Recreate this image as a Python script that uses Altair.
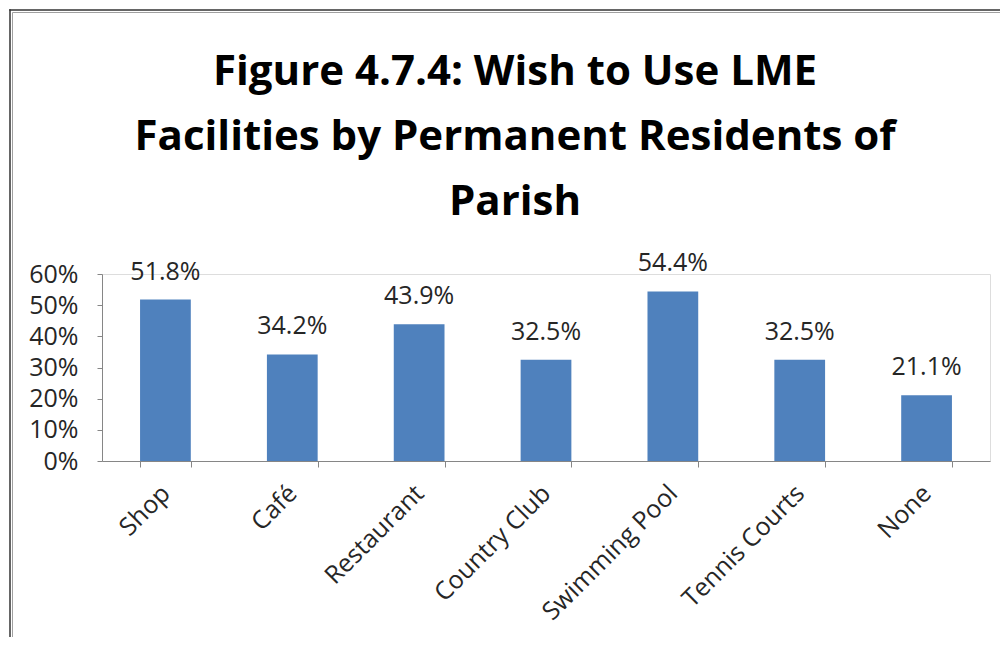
import altair as alt
import pandas as pd

categories = ["Shop", "Café", "Restaurant", "Country Club", "Swimming Pool", "Tennis Courts", "None"]
values = [0.518, 0.342, 0.439, 0.325, 0.544, 0.325, 0.211]
labels = ["51.8%", "34.2%", "43.9%", "32.5%", "54.4%", "32.5%", "21.1%"]
title_lines = ["Figure 4.7.4: Wish to Use LME", "Facilities by Permanent Residents of", "Parish"]
y_ticks = [0, 0.1, 0.2, 0.3, 0.4, 0.5, 0.6]

df = pd.DataFrame({"cat": categories, "val": values, "lab": labels})

FONT = "Open Sans"
TEXT = "#262626"
AXIS = "#868686"
FS = 25

x = alt.X("cat:N", sort=categories, title=None,
          scale=alt.Scale(paddingInner=0.6, paddingOuter=0.3),
          axis=alt.Axis(labelAngle=-45, labelAlign="right", labelBaseline="middle",
                        labelPadding=22, tickBand="extent", tickSize=6,
                        labelFontSize=FS, labelFont=FONT, labelColor=TEXT,
                        domainColor=AXIS, tickColor=AXIS, labelOverlap=False))
y = alt.Y("val:Q", title=None,
          scale=alt.Scale(domain=[0, 0.6], nice=False),
          axis=alt.Axis(format=".0%", values=y_ticks, tickCount=7,
                        grid=False, tickSize=5, labelPadding=19, labelOverlap=False,
                        labelFontSize=FS, labelFont=FONT, labelColor=TEXT,
                        domainColor=AXIS, tickColor=AXIS))

bars = alt.Chart(df).mark_bar(color="#4F81BD").encode(x=x, y=y)
text = alt.Chart(df).mark_text(fontSize=FS, font=FONT, color=TEXT, baseline="alphabetic", dy=-20).encode(
    x=x, y=y, text="lab:N")

border_df = pd.DataFrame({"k": [0]})
left_outer = alt.Chart(border_df).mark_rule(stroke="#333333", strokeWidth=1.5).encode(
    x=alt.value(-92), y=alt.value(-264.75), y2=alt.value(400))
top_outer = alt.Chart(border_df).mark_rule(stroke="#333333", strokeWidth=1.5).encode(
    y=alt.value(-264), x=alt.value(-92.75), x2=alt.value(898))
left_inner = alt.Chart(border_df).mark_rule(stroke="#A0A0A0", strokeWidth=1).encode(
    x=alt.value(-89.5), y=alt.value(-261.5), y2=alt.value(400))
top_inner = alt.Chart(border_df).mark_rule(stroke="#A0A0A0", strokeWidth=1).encode(
    y=alt.value(-261.5), x=alt.value(-89.5), x2=alt.value(898))

chart = alt.layer(left_outer, top_outer, left_inner, top_inner, bars, text).properties(
    width=888, height=187,
    autosize=alt.AutoSizeParams(type="none"),
    padding={"left": 94, "top": 266, "right": 10, "bottom": 176},
    title=alt.TitleParams(title_lines, font=FONT, fontSize=42, fontWeight="bold", color="#000000",
                          anchor="middle", dx=-31, offset=-215, lineHeight=65),
).configure_view(stroke=None).configure(background="white")

chart.save("out.html", embed_options={"renderer": "svg", "actions": False})
